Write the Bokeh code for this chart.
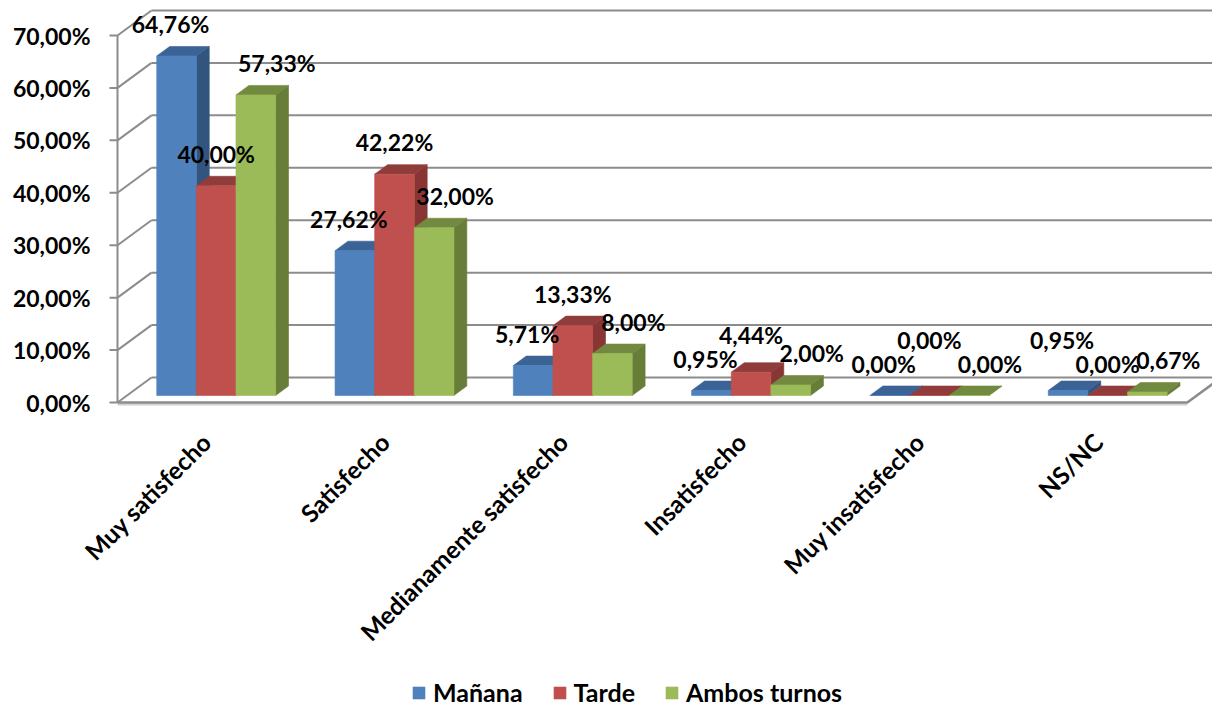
import math
from bokeh.plotting import figure
from bokeh.models import Range1d, ColumnDataSource, Legend, LegendItem
from bokeh.core.properties import value
from bokeh.embed import file_html
from bokeh.resources import INLINE

# ---------------- data ----------------
categories = ["Muy satisfecho", "Satisfecho", "Medianamente satisfecho",
              "Insatisfecho", "Muy insatisfecho", "NS/NC"]
series_names = ["Mañana", "Tarde", "Ambos turnos"]
manana = [64.76, 27.62, 5.71, 0.95, 0.00, 0.95]
tarde = [40.00, 42.22, 13.33, 4.44, 0.00, 0.00]
ambos = [57.33, 32.00, 8.00, 2.00, 0.00, 0.67]
y_ticks = [0, 10, 20, 30, 40, 50, 60, 70]
y_tick_labels = ["0,00%", "10,00%", "20,00%", "30,00%", "40,00%",
                 "50,00%", "60,00%", "70,00%"]

series = [manana, tarde, ambos]
front_colors = ["#4F81BD", "#C0504D", "#9BBB59"]
top_colors = ["#3B6395", "#8F3C3A", "#728A3F"]
side_colors = ["#32557F", "#873634", "#677D38"]

# ---------------- layout (screen px) ----------------
W, H = 1212, 709
PAGE = 0
X0 = 117.0          # front-left floor corner (page x)
Y0 = 402.0          # front floor line (page y)
CW = 178.3          # category width in px
PPU = 367.0 / 70.0  # px per percent
DX, DY = 34.0, 25.0 # depth offset of back wall
D_FRONT, D_BACK = 0.28, 0.66
BAR_W = 1.0 / 4.5
N = len(categories)
YMAX = y_ticks[-1]

def proj(u, v, d):
    return u + d * DX / CW, v + d * DY / PPU

def u_of(px):
    return (px - X0) / CW

def v_of(py):
    return (Y0 - py) / PPU

p = figure(width=W, height=H, output_backend="svg", toolbar_location=None,
           x_range=Range1d(u_of(PAGE), u_of(PAGE + W)),
           y_range=Range1d(v_of(PAGE + H), v_of(PAGE)),
           x_axis_location=None, y_axis_location=None, min_border=0)
p.grid.visible = False
p.outline_line_color = None
p.background_fill_color = "white"
p.border_fill_color = "white"

GRID = "#8C8C8C"

# back wall gridlines + left wall diagonals
gx, gy, dxs, dys = [], [], [], []
for t in y_ticks:
    a = proj(0, t, 1); b = proj(N, t, 1)
    gx.append([a[0], b[0]]); gy.append([a[1], b[1]])
    c = proj(0, t, 0)
    dxs.append([c[0], a[0]]); dys.append([c[1], a[1]])
p.multi_line(gx, gy, line_color=GRID, line_width=2)
p.multi_line(dxs, dys, line_color=GRID, line_width=2)

# front axis + ticks
p.line([0, 0], [0, YMAX], line_color=GRID, line_width=2)
tx = [[u_of(X0 - 8), 0] for _ in y_ticks]
ty = [[t, t] for t in y_ticks]
p.multi_line(tx, ty, line_color=GRID, line_width=2)

# floor edges
fa = proj(N, 0, 0); fb = proj(N, 0, 1)
p.line([0, N], [v_of(Y0 + 2), v_of(Y0 + 2)], line_color="#D0D0D0", line_width=2)
p.line([0, fa[0], fb[0]], [0, fa[1], fb[1]], line_color=GRID, line_width=2.5)

# bars (painter's order: side, top, front)
xs, ys, cols = [], [], []
legend_index = {}
for i in range(N):
    for s in range(3):
        v = series[s][i]
        ul = i + 0.5 - 1.5 * BAR_W + s * BAR_W
        ur = ul + BAR_W
        side = [proj(ur, 0, D_FRONT), proj(ur, 0, D_BACK), proj(ur, v, D_BACK), proj(ur, v, D_FRONT)]
        top = [proj(ul, v, D_FRONT), proj(ur, v, D_FRONT), proj(ur, v, D_BACK), proj(ul, v, D_BACK)]
        front = [proj(ul, 0, D_FRONT), proj(ur, 0, D_FRONT), proj(ur, v, D_FRONT), proj(ul, v, D_FRONT)]
        for poly, c in ((side, side_colors[s]), (top, top_colors[s]), (front, front_colors[s])):
            if poly is front and s not in legend_index and v > 0:
                legend_index[s] = len(xs)
            xs.append([q[0] for q in poly]); ys.append([q[1] for q in poly]); cols.append(c)
src = ColumnDataSource(dict(xs=xs, ys=ys, color=cols))
bars = p.patches("xs", "ys", source=src, fill_color="color", line_color="color", line_width=0.6)

# data labels with simple overlap resolution (screen px)
OFF_X = [-6, 0, 21]
GAP = 32
LW, LH, RAISE = 60, 20, 24
lx, ly, lt = [], [], []
for i in range(N):
    pos = []
    for s in range(3):
        v = series[s][i]
        ul = i + 0.5 - 1.5 * BAR_W + s * BAR_W
        cu, cv = proj(ul + BAR_W / 2, v, D_FRONT)
        sx = X0 + cu * CW + OFF_X[s]
        sy = Y0 - cv * PPU - GAP
        pos.append([sx, sy, v])
    for a, b in ((0, 1), (1, 2)):
        pa, pb = pos[a], pos[b]
        if abs(pa[0] - pb[0]) < LW and abs(pa[1] - pb[1]) < LH:
            if pa[2] > pb[2]:
                pa[1] = pb[1] - RAISE
            else:
                pb[1] = pa[1] - RAISE
    for s in range(3):
        lx.append(u_of(pos[s][0])); ly.append(v_of(pos[s][1]))
        lt.append(f"{series[s][i]:.2f}".replace(".", ",") + "%")

FONT_NAME = "Lato"
FONT = value(FONT_NAME)
FS = "23px"
p.text(lx, ly, text=lt, text_font=FONT, text_font_style="bold", text_font_size=FS,
       text_align="center", text_baseline="middle", text_color="black")

# y tick labels
p.text([u_of(90)] * len(y_ticks), y_ticks, text=y_tick_labels, text_font=FONT,
       text_font_style="bold", text_font_size=FS, text_align="right",
       text_baseline="middle", text_color="black")

# category labels (rotated 45°)
p.text([i + 0.5 for i in range(N)], [v_of(437)] * N, text=categories, angle=math.pi / 4,
       text_font=FONT, text_font_style="bold", text_font_size="24.5px",
       text_align="right", text_baseline="middle", text_color="black")

# legend
items = [LegendItem(label=series_names[s], renderers=[bars], index=legend_index[s]) for s in range(3)]
legend = Legend(items=items, orientation="horizontal", location=(411, 2),
                glyph_width=15, glyph_height=15, label_standoff=7, spacing=29,
                padding=0, margin=0, border_line_color=None, background_fill_alpha=0,
                label_text_font=FONT_NAME, label_text_font_style="bold",
                label_text_font_size="25px", label_text_color="black", label_height=22)
p.add_layout(legend, "center")

open("out.html", "w").write(file_html(p, INLINE))
